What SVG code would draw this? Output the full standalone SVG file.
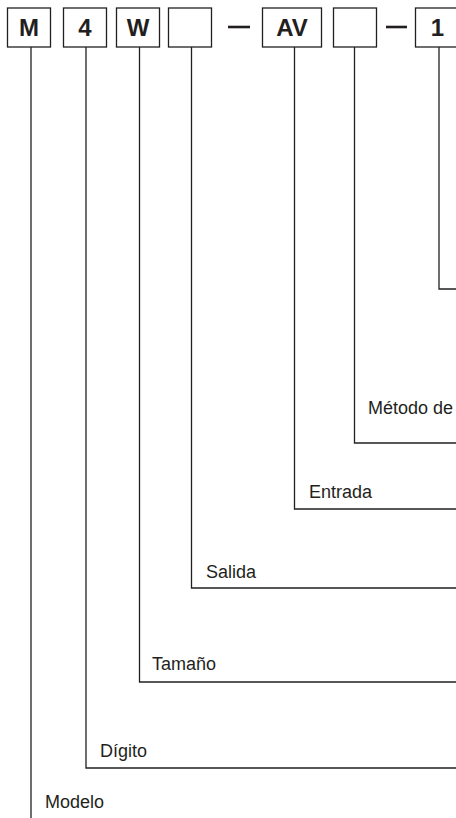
<svg xmlns="http://www.w3.org/2000/svg" width="456" height="818" viewBox="0 0 456 818">
<style>
.box{fill:#fff;stroke:#231f20;stroke-width:1.3}
.code{font-family:"Liberation Sans",Arial,sans-serif;font-weight:bold;font-size:24px;fill:#231f20;text-anchor:middle}
.lbl{font-family:"Liberation Sans",Arial,sans-serif;font-size:18px;fill:#231f20}
.ln{fill:none;stroke:#231f20;stroke-width:1.3}
.dash{stroke:#231f20;stroke-width:2.6}
</style>
<rect width="456" height="818" fill="#fff"/>
<g id="connectors">
<polyline class="ln" points="439,47 439,289 456,289"/>
<polyline class="ln" points="354.5,47 354.5,443 456,443"/>
<polyline class="ln" points="294.5,47 294.5,509 456,509"/>
<polyline class="ln" points="191.5,47 191.5,588 456,588"/>
<polyline class="ln" points="139.5,47 139.5,682 456,682"/>
<polyline class="ln" points="86,47 86,768 456,768"/>
<polyline class="ln" points="31,47 31,818"/>
</g>
<g id="box-M"><rect class="box" x="7.5" y="8" width="43" height="39"/><text class="code" x="29" y="36">M</text></g>
<g id="box-4"><rect class="box" x="63.5" y="8" width="43" height="39"/><text class="code" x="85" y="36">4</text></g>
<g id="box-W"><rect class="box" x="116.5" y="8" width="43" height="39"/><text class="code" x="138" y="36">W</text></g>
<g id="box-empty1"><rect class="box" x="168.5" y="8" width="43" height="39"/></g>
<g id="dash1"><line class="dash" x1="228" y1="27" x2="250" y2="27"/></g>
<g id="box-AV"><rect class="box" x="262.5" y="8" width="59" height="39"/><text class="code" x="292" y="36">AV</text></g>
<g id="box-empty2"><rect class="box" x="333.5" y="8" width="43" height="39"/></g>
<g id="dash2"><line class="dash" x1="386" y1="27" x2="407" y2="27"/></g>
<g id="box-1"><rect class="box" x="415.5" y="8" width="44" height="39"/><text class="code" x="437.5" y="36">1</text></g>
<g id="labels">
<text class="lbl" x="368" y="414">Método de</text>
<text class="lbl" x="309" y="498">Entrada</text>
<text class="lbl" x="206" y="578">Salida</text>
<text class="lbl" x="152" y="670">Tamaño</text>
<text class="lbl" x="100" y="757">Dígito</text>
<text class="lbl" x="45" y="808">Modelo</text>
</g>
</svg>
